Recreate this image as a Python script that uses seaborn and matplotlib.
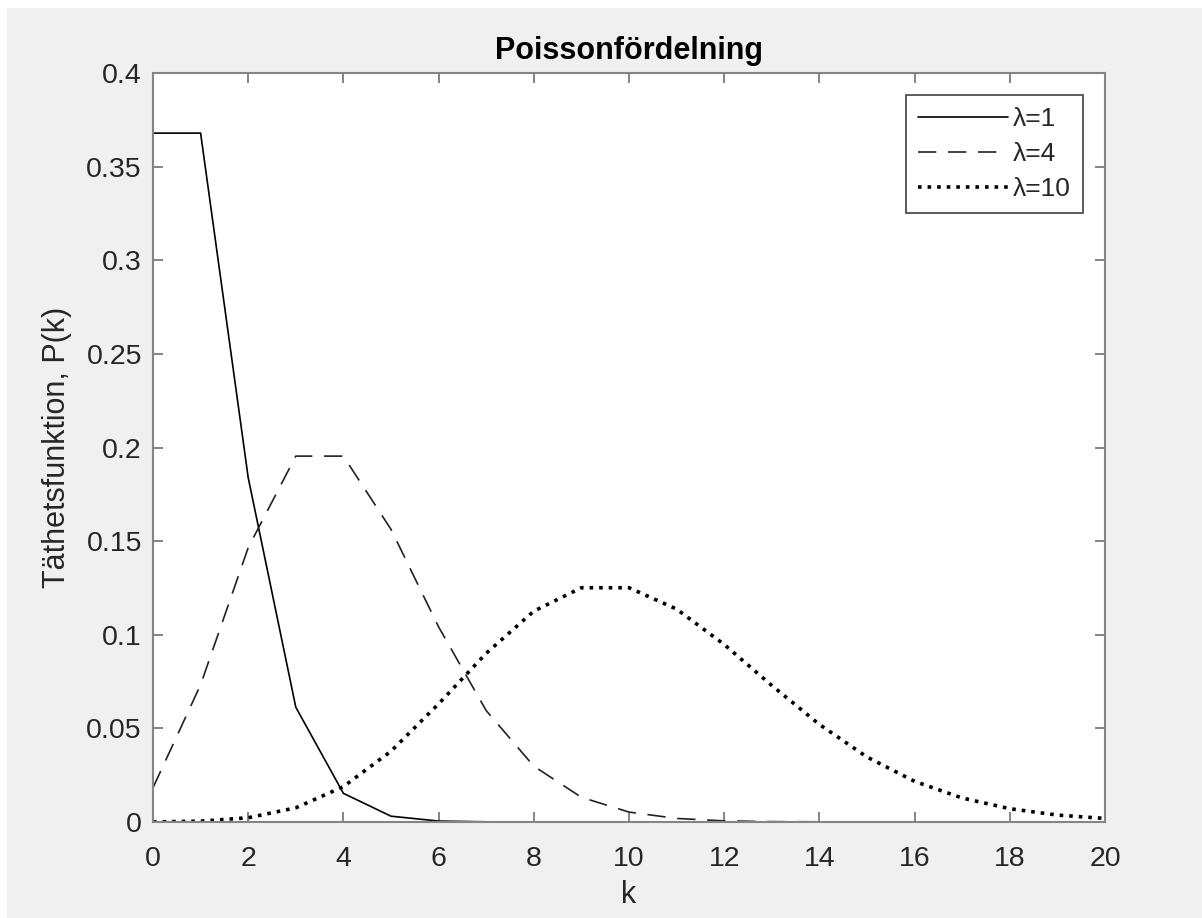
import matplotlib
matplotlib.use("Agg")
import matplotlib.pyplot as plt
import seaborn as sns
import pandas as pd
from matplotlib.patches import Rectangle

k = list(range(21))
p_lam1 = [0.3679, 0.3679, 0.1839, 0.0613, 0.0153, 0.0031, 0.0005, 0.0001, 0.0, 0.0, 0.0,
          0.0, 0.0, 0.0, 0.0, 0.0, 0.0, 0.0, 0.0, 0.0, 0.0]
p_lam4 = [0.0183, 0.0733, 0.1465, 0.1954, 0.1954, 0.1563, 0.1042, 0.0595, 0.0298, 0.0132, 0.0053,
          0.0019, 0.0006, 0.0002, 0.0001, 0.0, 0.0, 0.0, 0.0, 0.0, 0.0]
p_lam10 = [0.0000454, 0.000454, 0.00227, 0.00757, 0.0189, 0.0378, 0.0631, 0.0901, 0.1126, 0.1251,
           0.1251, 0.1137, 0.0948, 0.0729, 0.0521, 0.0347, 0.0217, 0.0128, 0.0071, 0.0037, 0.0019]
labels = ["λ=1", "λ=4", "λ=10"]
yticks = [0, 0.05, 0.1, 0.15, 0.2, 0.25, 0.3, 0.35, 0.4]
ytick_labels = ['0', '0.05', '0.1', '0.15', '0.2', '0.25', '0.3', '0.35', '0.4']

sns.set_style("ticks")
plt.rcParams['font.family'] = ['Liberation Sans', 'DejaVu Sans']

fig = plt.figure(figsize=(12.02, 9.18), dpi=100)
fig.patch.set_facecolor('white')
fig.patches.append(Rectangle((7/1202, 0), 1 - 7/1202, (918 - 8)/918, transform=fig.transFigure,
                             facecolor='#f0f0f0', edgecolor='none', zorder=-10))
ax = fig.add_axes([153/1202, (918-822)/918, (1105-153)/1202, (822-73)/918])
ax.set_facecolor('white')

df = pd.DataFrame({'k': k, 'l1': p_lam1, 'l4': p_lam4, 'l10': p_lam10})
sns.lineplot(data=df, x='k', y='l1', ax=ax, color='black', lw=1.2, linestyle='-', label=labels[0])
sns.lineplot(data=df, x='k', y='l4', ax=ax, color='#222222', lw=1.2, dashes=(11, 7), label=labels[1])
sns.lineplot(data=df, x='k', y='l10', ax=ax, color='black', lw=2.6, linestyle=':', label=labels[2])

ax.set_xlim(0, 20)
ax.set_ylim(0, 0.4)
ax.set_xticks(range(0, 21, 2))
ax.set_yticks(yticks)
ax.set_yticklabels(ytick_labels)
for s in ax.spines.values():
    s.set_visible(True)
    s.set_color('#858585')
    s.set_linewidth(1.5)
ax.tick_params(direction='in', top=True, right=True, length=7, width=1.2, color='#707070',
               labelsize=20.5, labelcolor='#262626')
ax.tick_params(axis='x', pad=17)
ax.tick_params(axis='y', pad=8)
ax.set_xlabel('k', fontsize=22, color='#262626', labelpad=6)
ax.set_ylabel('Täthetsfunktion, P(k)', fontsize=22, color='#262626', labelpad=10)
ax.set_title('Poissonfördelning', fontsize=22, fontweight='bold', color='black', pad=10)

leg = ax.legend(loc='upper right', fontsize=19, frameon=True, fancybox=False,
                handlelength=3.4, borderaxespad=0.85, labelspacing=0.42, handletextpad=0.2,
                borderpad=0.45)
leg.get_frame().set_edgecolor('#404040')
leg.get_frame().set_linewidth(1.2)
leg.get_frame().set_alpha(1)

fig.savefig('out.png', dpi=100, facecolor=fig.get_facecolor())
